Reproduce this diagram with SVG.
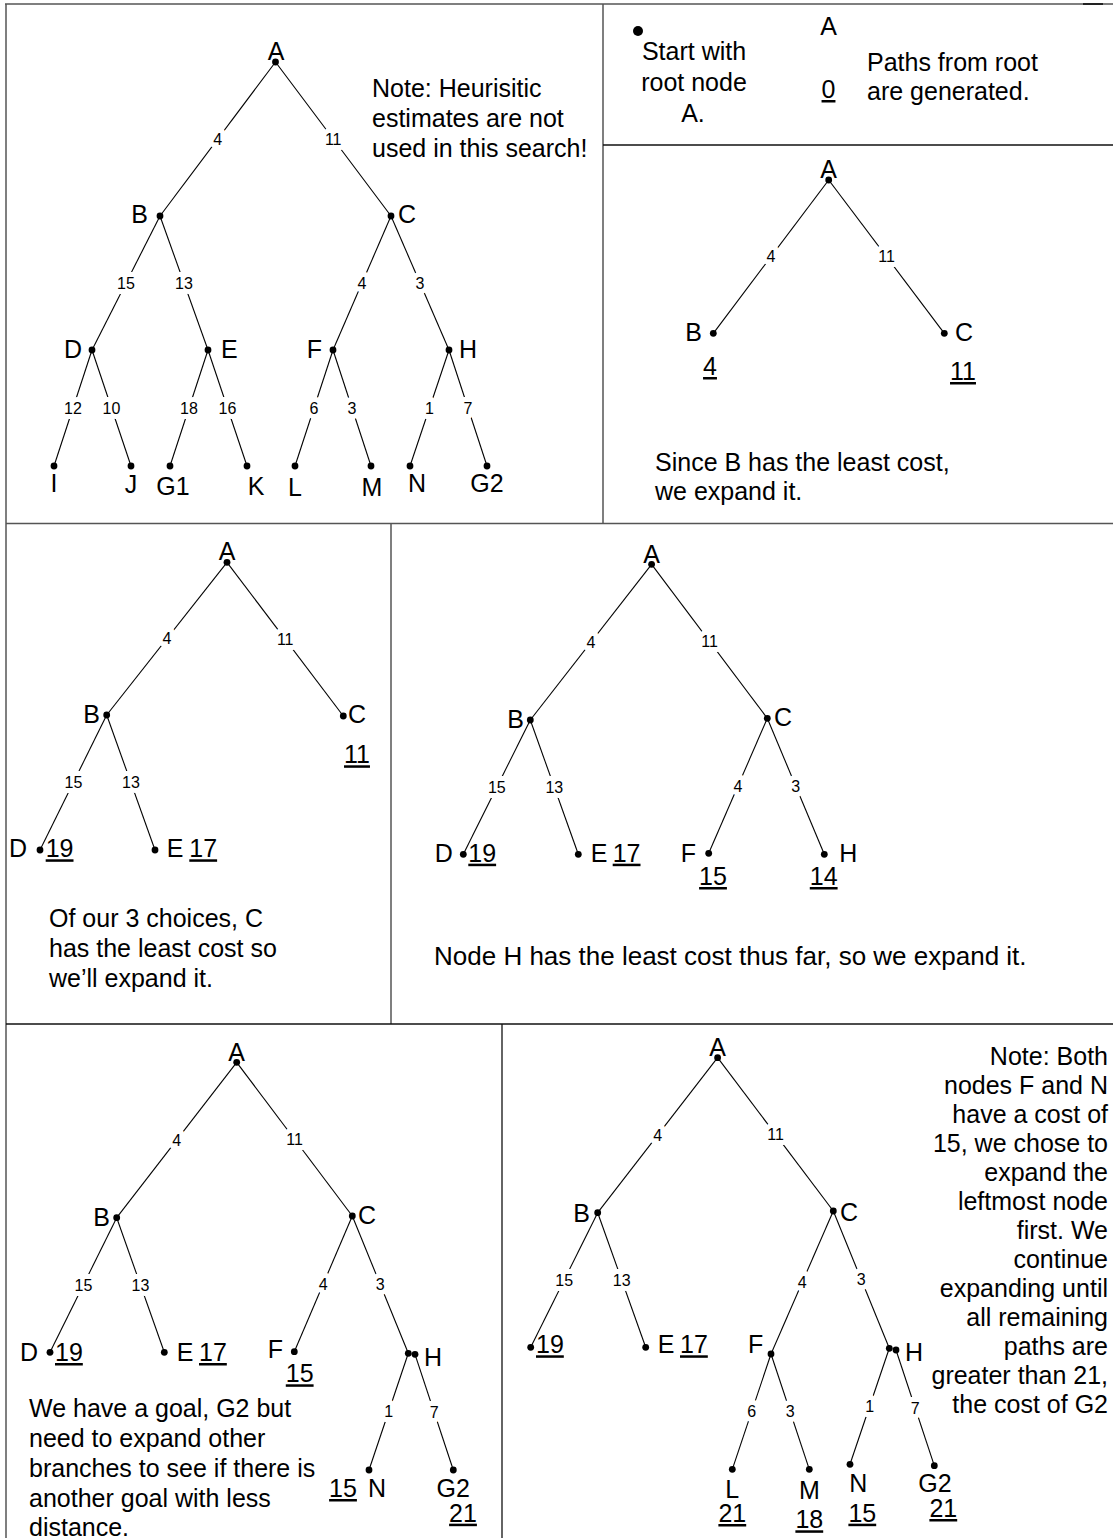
<svg xmlns="http://www.w3.org/2000/svg" width="1113" height="1538" viewBox="0 0 1113 1538">
<style>
.frame{stroke:#555;stroke-width:1.5;fill:none}
.frameb{stroke:#111;stroke-width:1.3;fill:none}
.edge{stroke:#000;stroke-width:1.1;fill:none}
.dot{fill:#000}
text{font-family:"Liberation Sans",Arial,sans-serif;fill:#000}
.n{font-size:25px}
.m{text-anchor:middle}
.e{text-anchor:end}
.c{text-decoration:underline}
.w{font-size:16px;text-anchor:middle;paint-order:stroke;stroke:#fff;stroke-width:10;stroke-linejoin:round}
</style>
<rect x="0" y="0" width="1113" height="1538" fill="#fff"/>
<g id="frames">
<line class="frame" x1="5" y1="4" x2="1113" y2="4"/>
<line x1="1083" y1="4" x2="1103" y2="4" stroke="#222" stroke-width="2"/>
<line class="frame" x1="6" y1="4" x2="6" y2="1538"/>
<line class="frame" x1="603" y1="4" x2="603" y2="524"/>
<line class="frameb" x1="603" y1="145" x2="1113" y2="145"/>
<line class="frame" x1="6" y1="523.5" x2="1113" y2="523.5"/>
<line class="frame" x1="391" y1="523.5" x2="391" y2="1024"/>
<line class="frameb" x1="6" y1="1024" x2="1113" y2="1024"/>
<line class="frameb" x1="502" y1="1024" x2="502" y2="1538"/>
</g>

<!-- Panel 1: full tree -->
<g id="p1">
<g id="p1-connectors">
<line class="edge" x1="275.5" y1="62" x2="160" y2="216"/>
<line class="edge" x1="275.5" y1="62" x2="391" y2="216"/>
<line class="edge" x1="160" y1="216" x2="92" y2="350"/>
<line class="edge" x1="160" y1="216" x2="208" y2="350"/>
<line class="edge" x1="391" y1="216" x2="333" y2="350"/>
<line class="edge" x1="391" y1="216" x2="449" y2="350"/>
<line class="edge" x1="92" y1="350" x2="54" y2="466"/>
<line class="edge" x1="92" y1="350" x2="131" y2="466"/>
<line class="edge" x1="208" y1="350" x2="170" y2="466"/>
<line class="edge" x1="208" y1="350" x2="247" y2="466"/>
<line class="edge" x1="333" y1="350" x2="295" y2="466"/>
<line class="edge" x1="333" y1="350" x2="371" y2="466"/>
<line class="edge" x1="449" y1="350" x2="410" y2="466"/>
<line class="edge" x1="449" y1="350" x2="487" y2="466"/>
<text class="w" x="217.7" y="144.7">4</text>
<text class="w" x="333.2" y="144.7">11</text>
<text class="w" x="126" y="288.7">15</text>
<text class="w" x="184" y="288.7">13</text>
<text class="w" x="362" y="288.7">4</text>
<text class="w" x="420" y="288.7">3</text>
<text class="w" x="73" y="413.7">12</text>
<text class="w" x="111.5" y="413.7">10</text>
<text class="w" x="189" y="413.7">18</text>
<text class="w" x="227.5" y="413.7">16</text>
<text class="w" x="314" y="413.7">6</text>
<text class="w" x="352" y="413.7">3</text>
<text class="w" x="429.5" y="413.7">1</text>
<text class="w" x="468" y="413.7">7</text>
</g>
<g id="p1-A"><text class="n m" x="276" y="60">A</text><circle class="dot" cx="275.5" cy="62" r="3.4"/></g>
<g id="p1-B"><text class="n e" x="148" y="223">B</text><circle class="dot" cx="160" cy="216" r="3.4"/></g>
<g id="p1-C"><text class="n" x="398" y="223">C</text><circle class="dot" cx="391" cy="216" r="3.4"/></g>
<g id="p1-D"><text class="n e" x="82" y="358">D</text><circle class="dot" cx="92" cy="350" r="3.4"/></g>
<g id="p1-E"><text class="n" x="221" y="358">E</text><circle class="dot" cx="208" cy="350" r="3.4"/></g>
<g id="p1-F"><text class="n e" x="322" y="358">F</text><circle class="dot" cx="333" cy="350" r="3.4"/></g>
<g id="p1-H"><text class="n" x="459" y="358">H</text><circle class="dot" cx="449" cy="350" r="3.4"/></g>
<g id="p1-I"><circle class="dot" cx="54" cy="466" r="3.4"/><text class="n m" x="54" y="492">I</text></g>
<g id="p1-J"><circle class="dot" cx="131" cy="466" r="3.4"/><text class="n m" x="131" y="493">J</text></g>
<g id="p1-G1"><circle class="dot" cx="170" cy="466" r="3.4"/><text class="n m" x="173" y="495">G1</text></g>
<g id="p1-K"><circle class="dot" cx="247" cy="466" r="3.4"/><text class="n m" x="256" y="495">K</text></g>
<g id="p1-L"><circle class="dot" cx="295" cy="466" r="3.4"/><text class="n m" x="295" y="496">L</text></g>
<g id="p1-M"><circle class="dot" cx="371" cy="466" r="3.4"/><text class="n m" x="372" y="496">M</text></g>
<g id="p1-N"><circle class="dot" cx="410" cy="466" r="3.4"/><text class="n m" x="417" y="492">N</text></g>
<g id="p1-G2"><circle class="dot" cx="487" cy="466" r="3.4"/><text class="n m" x="487" y="492">G2</text></g>
<g id="p1-note">
<text class="n" x="372" y="97">Note: Heurisitic</text>
<text class="n" x="372" y="127">estimates are not</text>
<text class="n" x="372" y="157">used in this search!</text>
</g>
</g>

<!-- Panel 2: start -->
<g id="p2">
<g id="p2-start"><circle class="dot" cx="638" cy="31" r="5"/>
<text class="n m" x="694" y="60">Start with</text>
<text class="n m" x="694" y="91">root node</text>
<text class="n m" x="693" y="122">A.</text></g>
<g id="p2-A"><text class="n m" x="828.5" y="35">A</text><text class="n m c" x="828.5" y="98">0</text></g>
<g id="p2-note"><text class="n" x="867" y="71">Paths from root</text><text class="n" x="867" y="100">are generated.</text></g>
</g>

<!-- Panel 3 -->
<g id="p3">
<g id="p3-connectors">
<line class="edge" x1="828.7" y1="180" x2="713.3" y2="333.3"/>
<line class="edge" x1="828.7" y1="180" x2="944.3" y2="333.3"/>
<text class="w" x="771" y="262.3">4</text>
<text class="w" x="886.5" y="262.3">11</text>
</g>
<g id="p3-A"><text class="n m" x="828.7" y="177.5">A</text><circle class="dot" cx="828.7" cy="180" r="3.4"/></g>
<g id="p3-B"><text class="n e" x="702" y="341">B</text><circle class="dot" cx="713.3" cy="333.3" r="3.4"/><text class="n m c" x="710" y="375">4</text></g>
<g id="p3-C"><text class="n" x="955" y="341">C</text><circle class="dot" cx="944.3" cy="333.3" r="3.4"/><text class="n m c" x="963" y="380">11</text></g>
<g id="p3-note"><text class="n" x="655" y="471">Since B has the least cost,</text><text class="n" x="655" y="500">we expand it.</text></g>
</g>

<!-- Panel 4 -->
<g id="p4">
<g id="p4-connectors">
<line class="edge" x1="227" y1="562.3" x2="106.7" y2="715"/>
<line class="edge" x1="227" y1="562.3" x2="343.3" y2="716"/>
<line class="edge" x1="106.7" y1="715" x2="40" y2="850"/>
<line class="edge" x1="106.7" y1="715" x2="155" y2="850"/>
<text class="w" x="166.9" y="644.4">4</text>
<text class="w" x="285.2" y="644.9">11</text>
<text class="w" x="73.4" y="788.2">15</text>
<text class="w" x="130.9" y="788.2">13</text>
</g>
<g id="p4-A"><text class="n m" x="227" y="560">A</text><circle class="dot" cx="227" cy="562.3" r="3.4"/></g>
<g id="p4-B"><text class="n e" x="100" y="723.3">B</text><circle class="dot" cx="106.7" cy="715" r="3.4"/></g>
<g id="p4-C"><text class="n" x="348" y="723.3">C</text><circle class="dot" cx="343.3" cy="716" r="3.4"/><text class="n m c" x="357" y="763.3">11</text></g>
<g id="p4-D"><text class="n e" x="27" y="857.3">D</text><circle class="dot" cx="40" cy="850" r="3.4"/><text class="n c" x="45.7" y="857.3">19</text></g>
<g id="p4-E"><circle class="dot" cx="155" cy="850" r="3.4"/><text class="n" x="166.7" y="857.3">E</text><text class="n c" x="189.3" y="857.3">17</text></g>
<g id="p4-note">
<text class="n" x="49" y="927">Of our 3 choices, C</text>
<text class="n" x="49" y="957">has the least cost so</text>
<text class="n" x="49" y="987">we’ll expand it.</text>
</g>
</g>

<!-- Panel 5 -->
<g id="p5">
<g id="p5-connectors">
<line class="edge" x1="651.6" y1="564.3" x2="530.3" y2="720"/>
<line class="edge" x1="651.6" y1="564.3" x2="767.3" y2="718.3"/>
<line class="edge" x1="530.3" y1="720" x2="463.3" y2="854.3"/>
<line class="edge" x1="530.3" y1="720" x2="578.3" y2="854.3"/>
<line class="edge" x1="767.3" y1="718.3" x2="708.7" y2="853.3"/>
<line class="edge" x1="767.3" y1="718.3" x2="824.3" y2="854.3"/>
<text class="w" x="591" y="647.9">4</text>
<text class="w" x="709.5" y="647">11</text>
<text class="w" x="496.8" y="792.7">15</text>
<text class="w" x="554.3" y="792.7">13</text>
<text class="w" x="738" y="791.5">4</text>
<text class="w" x="795.8" y="792">3</text>
</g>
<g id="p5-A"><text class="n m" x="651.6" y="563">A</text><circle class="dot" cx="651.6" cy="564.3" r="3.4"/></g>
<g id="p5-B"><text class="n e" x="524" y="728.3">B</text><circle class="dot" cx="530.3" cy="720" r="3.4"/></g>
<g id="p5-C"><text class="n" x="774" y="726">C</text><circle class="dot" cx="767.3" cy="718.3" r="3.4"/></g>
<g id="p5-D"><text class="n e" x="452.7" y="861.7">D</text><circle class="dot" cx="463.3" cy="854.3" r="3.4"/><text class="n c" x="468.3" y="861.7">19</text></g>
<g id="p5-E"><circle class="dot" cx="578.3" cy="854.3" r="3.4"/><text class="n" x="590.7" y="861.7">E</text><text class="n c" x="612.7" y="861.7">17</text></g>
<g id="p5-F"><text class="n e" x="696" y="861.7">F</text><circle class="dot" cx="708.7" cy="853.3" r="3.4"/><text class="n m c" x="713" y="885">15</text></g>
<g id="p5-H"><circle class="dot" cx="824.3" cy="854.3" r="3.4"/><text class="n" x="839.3" y="861.7">H</text><text class="n m c" x="823.7" y="885">14</text></g>
<g id="p5-note"><text class="n" x="434" y="965" style="font-size:26px">Node H has the least cost thus far, so we expand it.</text></g>
</g>

<!-- Panel 6 -->
<g id="p6">
<g id="p6-connectors">
<line class="edge" x1="236.7" y1="1062.3" x2="116.7" y2="1217.7"/>
<line class="edge" x1="236.7" y1="1062.3" x2="352.3" y2="1216"/>
<line class="edge" x1="116.7" y1="1217.7" x2="50" y2="1352.3"/>
<line class="edge" x1="116.7" y1="1217.7" x2="164.3" y2="1352.3"/>
<line class="edge" x1="352.3" y1="1216" x2="294.3" y2="1351.7"/>
<line class="edge" x1="352.3" y1="1216" x2="408.3" y2="1353.3"/>
<line class="edge" x1="408.3" y1="1353.3" x2="369" y2="1470"/>
<line class="edge" x1="415" y1="1354.3" x2="453.3" y2="1470"/>
<text class="w" x="176.7" y="1145.7">4</text>
<text class="w" x="294.5" y="1144.7">11</text>
<text class="w" x="83.4" y="1290.7">15</text>
<text class="w" x="140.5" y="1290.7">13</text>
<text class="w" x="323.3" y="1289.6">4</text>
<text class="w" x="380.3" y="1290.4">3</text>
<text class="w" x="388.7" y="1417.4">1</text>
<text class="w" x="434.2" y="1417.9">7</text>
</g>
<g id="p6-A"><text class="n m" x="236.7" y="1061">A</text><circle class="dot" cx="236.7" cy="1062.3" r="3.4"/></g>
<g id="p6-B"><text class="n e" x="110" y="1226">B</text><circle class="dot" cx="116.7" cy="1217.7" r="3.4"/></g>
<g id="p6-C"><text class="n" x="358" y="1224">C</text><circle class="dot" cx="352.3" cy="1216" r="3.4"/></g>
<g id="p6-D"><text class="n e" x="38" y="1361">D</text><circle class="dot" cx="50" cy="1352.3" r="3.4"/><text class="n c" x="55" y="1361">19</text></g>
<g id="p6-E"><circle class="dot" cx="164.3" cy="1352.3" r="3.4"/><text class="n" x="176.7" y="1361">E</text><text class="n c" x="199" y="1361">17</text></g>
<g id="p6-F"><text class="n e" x="283" y="1358.3">F</text><circle class="dot" cx="294.3" cy="1351.7" r="3.4"/><text class="n m c" x="299.7" y="1382.3">15</text></g>
<g id="p6-H"><circle class="dot" cx="408.3" cy="1353.3" r="3.4"/><circle class="dot" cx="415" cy="1354.3" r="3.4"/><text class="n" x="424" y="1365.7">H</text></g>
<g id="p6-N"><circle class="dot" cx="369" cy="1470" r="3.4"/><text class="n m" x="377" y="1496.7">N</text><text class="n m c" x="343" y="1497">15</text></g>
<g id="p6-G2"><circle class="dot" cx="453.3" cy="1470" r="3.4"/><text class="n m" x="453.3" y="1497">G2</text><text class="n m c" x="463" y="1521.7">21</text></g>
<g id="p6-note">
<text class="n" x="29" y="1417">We have a goal, G2 but</text>
<text class="n" x="29" y="1447">need to expand other</text>
<text class="n" x="29" y="1477">branches to see if there is</text>
<text class="n" x="29" y="1507">another goal with less</text>
<text class="n" x="29" y="1536">distance.</text>
</g>
</g>

<!-- Panel 7 -->
<g id="p7">
<g id="p7-connectors">
<line class="edge" x1="717.6" y1="1057.7" x2="597.7" y2="1212.7"/>
<line class="edge" x1="717.6" y1="1057.7" x2="833.3" y2="1211"/>
<line class="edge" x1="597.7" y1="1212.7" x2="530.7" y2="1347.3"/>
<line class="edge" x1="597.7" y1="1212.7" x2="645.7" y2="1347.3"/>
<line class="edge" x1="833.3" y1="1211" x2="771" y2="1354"/>
<line class="edge" x1="833.3" y1="1211" x2="889.3" y2="1348.3"/>
<line class="edge" x1="771" y1="1354" x2="732.3" y2="1469.3"/>
<line class="edge" x1="771" y1="1354" x2="809.3" y2="1469.3"/>
<line class="edge" x1="889.3" y1="1348.3" x2="850" y2="1464.3"/>
<line class="edge" x1="896" y1="1350" x2="934.3" y2="1465.7"/>
<text class="w" x="657.7" y="1140.9">4</text>
<text class="w" x="775.5" y="1140.1">11</text>
<text class="w" x="564.2" y="1285.7">15</text>
<text class="w" x="621.7" y="1285.7">13</text>
<text class="w" x="802.2" y="1288.2">4</text>
<text class="w" x="861.3" y="1285.4">3</text>
<text class="w" x="751.7" y="1417.4">6</text>
<text class="w" x="790.2" y="1417.4">3</text>
<text class="w" x="869.7" y="1412">1</text>
<text class="w" x="915.2" y="1413.6">7</text>
</g>
<g id="p7-A"><text class="n m" x="717.6" y="1055.5">A</text><circle class="dot" cx="717.6" cy="1057.7" r="3.4"/></g>
<g id="p7-B"><text class="n e" x="590" y="1221.7">B</text><circle class="dot" cx="597.7" cy="1212.7" r="3.4"/></g>
<g id="p7-C"><circle class="dot" cx="833.3" cy="1211" r="3.4"/><text class="n" x="840" y="1221">C</text></g>
<g id="p7-D"><circle class="dot" cx="530.7" cy="1347.3" r="3.4"/><text class="n c" x="536" y="1353.3">19</text></g>
<g id="p7-E"><circle class="dot" cx="645.7" cy="1347.3" r="3.4"/><text class="n" x="657.7" y="1353.3">E</text><text class="n c" x="680" y="1353.3">17</text></g>
<g id="p7-F"><text class="n e" x="763.3" y="1353.3">F</text><circle class="dot" cx="771" cy="1354" r="3.4"/></g>
<g id="p7-H"><circle class="dot" cx="889.3" cy="1348.3" r="3.4"/><circle class="dot" cx="896" cy="1350" r="3.4"/><text class="n" x="905" y="1360.7">H</text></g>
<g id="p7-L"><circle class="dot" cx="732.3" cy="1469.3" r="3.4"/><text class="n m" x="732.3" y="1497.5">L</text><text class="n m c" x="732.3" y="1522">21</text></g>
<g id="p7-M"><circle class="dot" cx="809.3" cy="1469.3" r="3.4"/><text class="n m" x="809.3" y="1499">M</text><text class="n m c" x="809.3" y="1528.3">18</text></g>
<g id="p7-N"><circle class="dot" cx="850" cy="1464.3" r="3.4"/><text class="n m" x="858.3" y="1491.7">N</text><text class="n m c" x="862.3" y="1521.7">15</text></g>
<g id="p7-G2"><circle class="dot" cx="934.3" cy="1465.7" r="3.4"/><text class="n m" x="935" y="1492">G2</text><text class="n m c" x="943.3" y="1517">21</text></g>
<g id="p7-note">
<text class="n e" x="1108" y="1065">Note: Both</text>
<text class="n e" x="1108" y="1094">nodes F and N</text>
<text class="n e" x="1108" y="1123">have a cost of</text>
<text class="n e" x="1108" y="1152">15, we chose to</text>
<text class="n e" x="1108" y="1181">expand the</text>
<text class="n e" x="1108" y="1210">leftmost node</text>
<text class="n e" x="1108" y="1239">first. We</text>
<text class="n e" x="1108" y="1268">continue</text>
<text class="n e" x="1108" y="1297">expanding until</text>
<text class="n e" x="1108" y="1326">all remaining</text>
<text class="n e" x="1108" y="1355">paths are</text>
<text class="n e" x="1108" y="1384">greater than 21,</text>
<text class="n e" x="1108" y="1413">the cost of G2</text>
</g>
</g>
</svg>
